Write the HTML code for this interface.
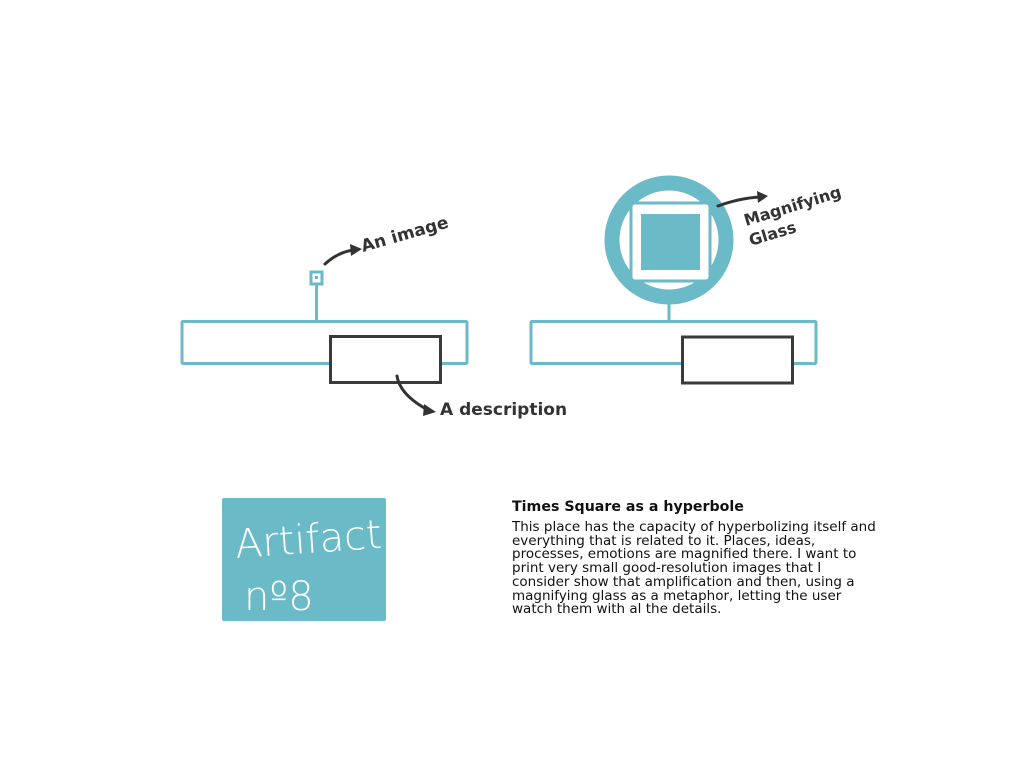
<!DOCTYPE html>
<html><head><meta charset="utf-8"><style>
html,body{margin:0;padding:0;background:#fff;width:1024px;height:768px;overflow:hidden}
svg{position:absolute;left:0;top:0}
.hand{font-family:"Comic Sans MS","DejaVu Sans",sans-serif;fill:#333;font-weight:bold}
#txt{position:absolute;left:512px;top:499px;width:420px;font-family:"DejaVu Sans",sans-serif;color:#111;white-space:nowrap}
#txt h1{font-size:14.2px;font-weight:bold;margin:0 0 6px 0}
#txt p{font-size:13.5px;line-height:13.7px;margin:0}
</style></head><body>
<svg width="1024" height="768" viewBox="0 0 1024 768">
<g fill="none" stroke="#6bbac8" stroke-width="3">
<rect x="182" y="321.5" width="285" height="42" rx="1"/>
<line x1="316.5" y1="285" x2="316.5" y2="321"/>
<rect x="311" y="272" width="11" height="12"/>
<rect x="531" y="321.5" width="285" height="42" rx="1"/>
<line x1="669" y1="285" x2="669" y2="321"/>
</g>
<rect x="315" y="276" width="3" height="3" fill="#6bbac8"/>
<rect x="330.5" y="336.5" width="110" height="46" fill="#fff" stroke="#3a3a3a" stroke-width="3"/>
<rect x="682.5" y="337" width="110" height="46" fill="#fff" stroke="#3a3a3a" stroke-width="3"/>
<circle cx="669" cy="240" r="57" fill="#fff" stroke="#6bbac8" stroke-width="15"/>
<rect x="631" y="203" width="79" height="78" rx="4" fill="#fff" stroke="#6bbac8" stroke-width="3"/>
<rect x="641" y="214" width="59" height="56" fill="#6bbac8"/>
<rect x="222" y="498" width="164" height="123" rx="2" fill="#6bbac8"/>
<g fill="none" stroke="#333" stroke-width="3" stroke-linecap="round">
<path d="M325 264 Q338 252 354 250"/>
<path d="M397 376 Q400 395 428 410"/>
<path d="M718 206 Q740 198 760 197"/>
</g>
<g fill="#333">
<polygon points="350,244 362,249 351,256"/>
<polygon points="424,404 436,412 423,416"/>
<polygon points="757,191 768,196 758,203"/>
</g>
<text class="hand" x="363" y="252" font-size="17" transform="rotate(-16 363 252)">An image</text>
<text class="hand" x="440" y="415" font-size="17">A description</text>
<text class="hand" x="746" y="226" font-size="16" transform="rotate(-17 746 226)">Magnifying</text>
<text class="hand" x="751" y="246" font-size="16" transform="rotate(-17 751 246)">Glass</text>
<text x="236" y="558" font-family="Comic Sans MS,DejaVu Sans,sans-serif" font-size="40" font-weight="200" fill="#fff" transform="rotate(-4 236 558)">Artifact</text>
<text x="244" y="610" font-family="Comic Sans MS,DejaVu Sans,sans-serif" font-size="40" font-weight="200" fill="#fff">nº8</text>
</svg>
<div id="txt"><h1>Times Square as a hyperbole</h1>
<p>This place has the capacity of hyperbolizing itself and<br>everything that is related to it. Places, ideas,<br>processes, emotions are magnified there. I want to<br>print very small good-resolution images that I<br>consider show that amplification and then, using a<br>magnifying glass as a metaphor, letting the user<br>watch them with al the details.</p></div>
</body></html>
